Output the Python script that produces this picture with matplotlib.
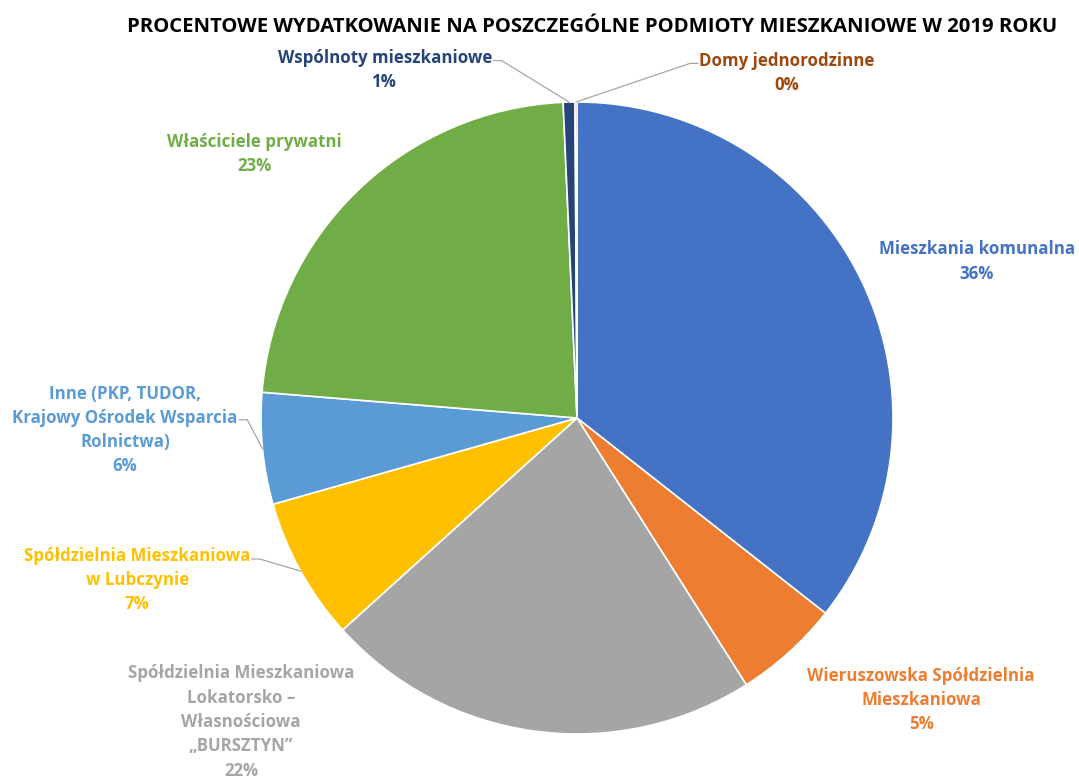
import numpy as np
import matplotlib
matplotlib.use("Agg")
import matplotlib.pyplot as plt

plt.rcParams['font.family'] = ['Open Sans', 'DejaVu Sans']

title = "PROCENTOWE WYDATKOWANIE NA POSZCZEGÓLNE PODMIOTY MIESZKANIOWE W 2019 ROKU"
categories = [
    "Mieszkania komunalna",
    "Wieruszowska Spółdzielnia\nMieszkaniowa",
    "Spółdzielnia Mieszkaniowa\nLokatorsko –\nWłasnościowa\n„BURSZTYN”",
    "Spółdzielnia Mieszkaniowa\nw Lubczynie",
    "Inne (PKP, TUDOR,\nKrajowy Ośrodek Wsparcia\nRolnictwa)",
    "Właściciele prywatni",
    "Wspólnoty mieszkaniowe",
    "Domy jednorodzinne",
]
values = [35.6, 5.4, 22.3, 7.3, 5.7, 23.0, 0.6, 0.1]
colors = ["#4472C4", "#ED7D31", "#A5A5A5", "#FFC000", "#5B9BD5", "#70AD47", "#264478", "#9E480E"]

# label placement (in pie-radius units); leader line attach line index (None = no leader)
label_pos = [(1.266, 0.495), (1.089, -0.892), (-1.063, -0.962), (-1.392, -0.513),
             (-1.430, -0.038), (-1.022, 0.835), (-0.608, 1.101), (0.665, 1.092)]
leader_line = [None, None, None, 0, 1, None, 0, 0]

W, H = 1079, 781
fig = plt.figure(figsize=(W / 100, H / 100), dpi=100)
ax = fig.add_axes([0, 0, 1, 1])
R = 316.0
cx, cy = 577.0, 418.0

wedges, _ = ax.pie(values, colors=colors, startangle=90, counterclock=False, radius=1.0,
                   wedgeprops=dict(edgecolor='white', linewidth=1.2))
ax.set_xlim(-cx / R, (W - cx) / R)
ax.set_ylim(-(H - cy) / R, cy / R)
ax.set_aspect('equal')
ax.axis('off')

total = sum(values)
fs = 12.2
lsp = 1.45
fig.canvas.draw()
inv = ax.transData.inverted()
for i, (w, cat, v, col) in enumerate(zip(wedges, categories, values, colors)):
    pct = int(round(v / total * 100))
    lx, ly = label_pos[i]
    txt = f"{cat}\n{pct}%"
    t = ax.text(lx, ly, txt, ha='center', va='center', color=col, fontsize=fs,
                fontweight='bold', linespacing=lsp)
    k = leader_line[i]
    if k is not None:
        ang = np.deg2rad((w.theta1 + w.theta2) / 2)
        px, py = np.cos(ang), np.sin(ang)
        bb = t.get_window_extent().transformed(inv)
        lines = txt.split("\n")
        line_h = (bb.y1 - bb.y0) / len(lines)
        ty = bb.y1 - line_h * (k + 0.55)
        tmp = ax.text(lx, ly, lines[k], ha='center', fontsize=fs, fontweight='bold')
        b2 = tmp.get_window_extent().transformed(inv)
        tmp.remove()
        half = (b2.x1 - b2.x0) / 2
        if lx < 0:
            ex = lx + half + 0.005
            ax.plot([ex, ex + 0.025, px], [ty, ty, py], color='#A6A6A6', lw=0.9)
        else:
            ex = lx - half - 0.005
            ax.plot([ex, ex - 0.025, px], [ty, ty, py], color='#A6A6A6', lw=0.9)

fig.text(592 / W, 1 - 27 / H, title, ha='center', va='center', fontsize=14.6,
         fontweight='bold', color='black')

fig.savefig("out.png", dpi=100, facecolor='white')
